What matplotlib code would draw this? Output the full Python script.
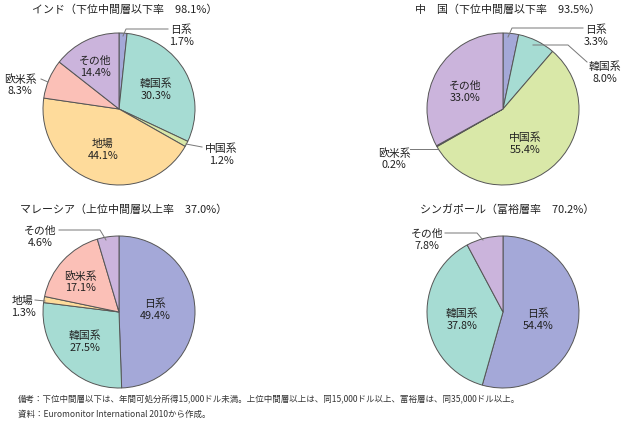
import matplotlib
matplotlib.use("Agg")
import matplotlib.pyplot as plt

plt.rcParams['font.family'] = ['Noto Sans CJK JP', 'DejaVu Sans']

W, H = 629, 424

# 色（系列ごと）
col = {'日系': '#a4a8d8', '韓国系': '#a6dcd3', '中国系': '#d9e8a8',
       '地場': '#fedb9b', '欧米系': '#fbc0b7', 'その他': '#cbb4dc'}

# インド
india_lab = ['日系', '韓国系', '中国系', '地場', '欧米系', 'その他']
india_val = [1.7, 30.3, 1.2, 44.1, 8.3, 14.4]
# 中国
china_lab = ['日系', '韓国系', '中国系', '欧米系', 'その他']
china_val = [3.3, 8.0, 55.4, 0.2, 33.0]
# マレーシア
malay_lab = ['日系', '韓国系', '地場', '欧米系', 'その他']
malay_val = [49.4, 27.5, 1.3, 17.1, 4.6]
# シンガポール
sing_lab = ['日系', '韓国系', 'その他']
sing_val = [54.4, 37.8, 7.8]

titles = ['インド（下位中間層以下率　98.1%）', '中　国（下位中間層以下率　93.5%）',
          'マレーシア（上位中間層以上率　37.0%）', 'シンガポール（富裕層率　70.2%）']

fig = plt.figure(figsize=(W / 100, H / 100), dpi=100)
ax = fig.add_axes([0, 0, 1, 1])

def Y(y):
    return H - y

def pie(labels, vals, cx, cy):
    ax.pie(vals, colors=[col[l] for l in labels], center=(cx, Y(cy)), radius=76,
           startangle=90, counterclock=False,
           wedgeprops=dict(edgecolor='#555555', linewidth=0.7))

def lab(x, y, name, v):
    ax.text(x, Y(y), name + '\n' + ('%.1f%%' % v), ha='center', va='center',
            fontsize=7.8, linespacing=1.2, color='#222222')

def leader(xs, ys):
    ax.plot(xs, [Y(y) for y in ys], color='#777777', lw=0.7)

fs_t = 7.9
# インド
pie(india_lab, india_val, 119, 109)
ax.text(32, Y(10), titles[0], fontsize=fs_t, va='center', color='#222222')
lab(181, 36, india_lab[0], india_val[0]); leader([123, 126, 168], [36, 29, 29])
lab(156, 90, india_lab[1], india_val[1])
lab(221, 155, india_lab[2], india_val[2]); leader([186, 202], [144, 147])
lab(103, 150, india_lab[3], india_val[3])
lab(20, 85, india_lab[4], india_val[4]); leader([41, 48], [79, 82])
lab(95, 67, india_lab[5], india_val[5])

# 中国
pie(china_lab, china_val, 503, 109)
ax.text(415, Y(10), titles[1], fontsize=fs_t, va='center', color='#222222')
lab(596, 36, china_lab[0], china_val[0]); leader([508, 512, 583], [37, 28, 28])
lab(605, 73, china_lab[1], china_val[1]); leader([533, 568, 587], [45, 45, 62])
lab(525, 144, china_lab[2], china_val[2])
lab(394, 159, china_lab[3], china_val[3]); leader([437, 410], [149, 149])
lab(465, 92, china_lab[4], china_val[4])

# マレーシア
pie(malay_lab, malay_val, 119, 312)
ax.text(20, Y(210), titles[2], fontsize=fs_t, va='center', color='#222222')
lab(155, 310, malay_lab[0], malay_val[0])
lab(85, 342, malay_lab[1], malay_val[1])
lab(23, 307, malay_lab[2], malay_val[2]); leader([35, 45], [300, 301])
lab(80, 282, malay_lab[3], malay_val[3])
lab(40, 237, malay_lab[4], malay_val[4]); leader([59, 100, 106], [230, 230, 240])

# シンガポール
pie(sing_lab, sing_val, 503, 312)
ax.text(420, Y(210), titles[3], fontsize=fs_t, va='center', color='#222222')
lab(538, 320, sing_lab[0], sing_val[0])
lab(462, 320, sing_lab[1], sing_val[1])
lab(427, 240, sing_lab[2], sing_val[2]); leader([445, 477, 483], [233, 233, 240])

# 注記
ax.text(18, Y(400), '備考：下位中間層以下は、年間可処分所得15,000ドル未満。上位中間層以上は、同15,000ドル以上、富裕層は、同35,000ドル以上。',
        fontsize=6.1, va='center', color='#333333')
ax.text(18, Y(414), '資料：Euromonitor International 2010から作成。',
        fontsize=6.1, va='center', color='#333333')

ax.set_xlim(0, W)
ax.set_ylim(0, H)
ax.set_aspect('equal')
ax.axis('off')

fig.savefig('out.png', dpi=100)
